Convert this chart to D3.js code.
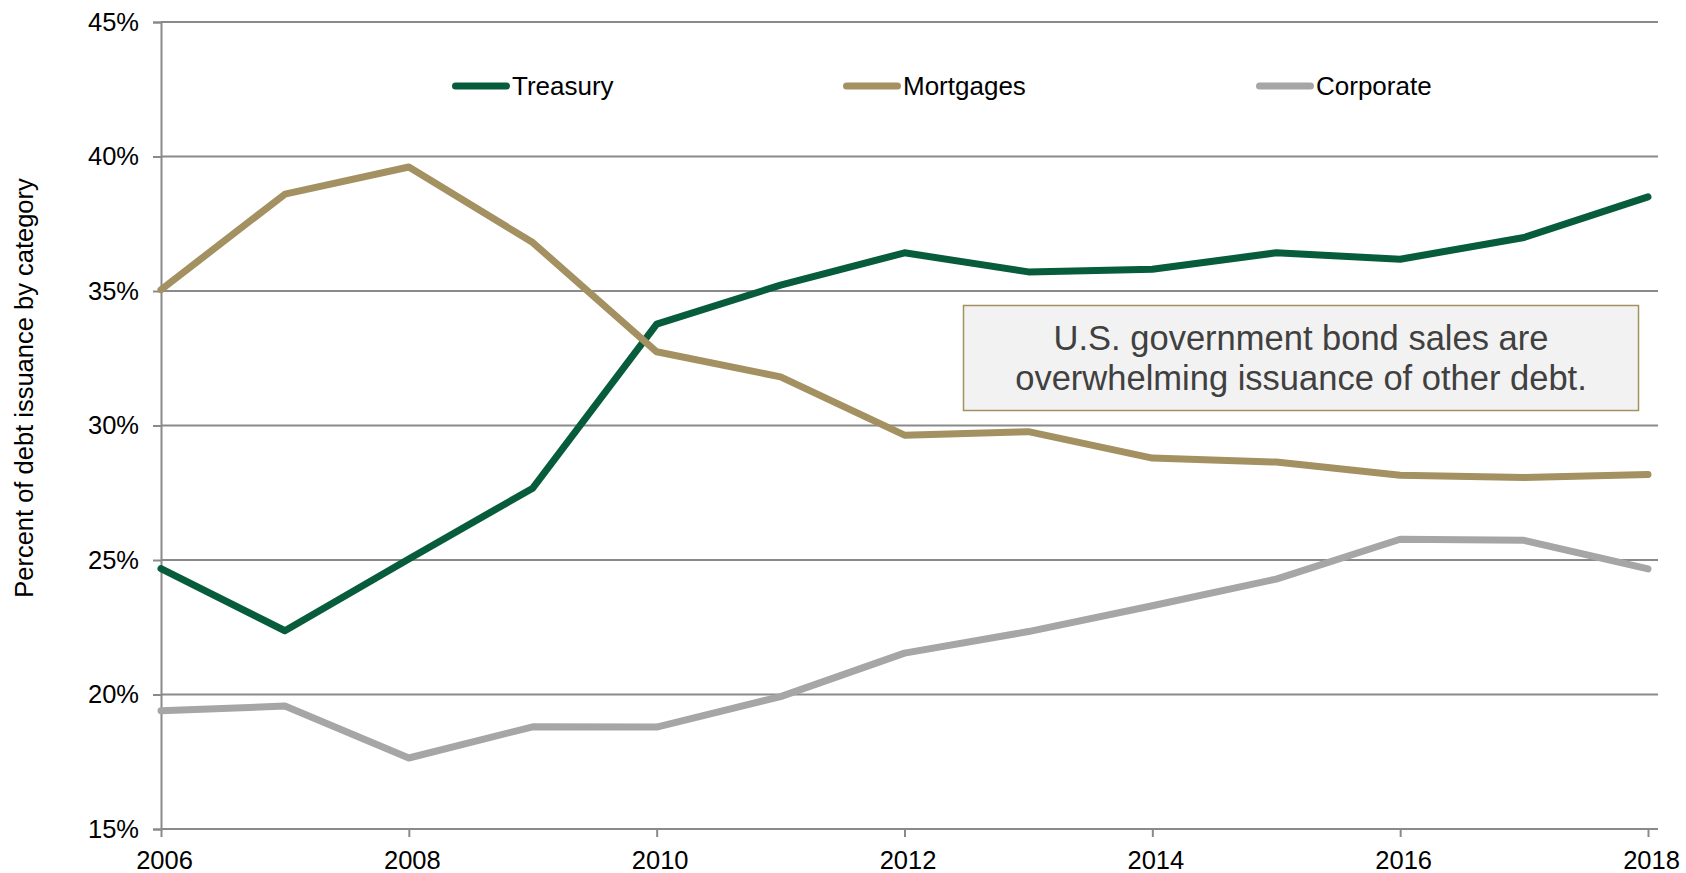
<!DOCTYPE html>
<html>
<head>
<meta charset="utf-8">
<script src="https://cdn.jsdelivr.net/npm/d3@7"></script>
<style>
  html, body { margin: 0; padding: 0; background: #fff; }
  svg { display: block; font-family: "Liberation Sans", Arial, sans-serif; }
</style>
</head>
<body>
<svg id="chart" width="1686" height="873"></svg>
<script>
// Share of total debt issuance by category, 2006-2018 (percent)
const years = [2006, 2007, 2008, 2009, 2010, 2011, 2012, 2013, 2014, 2015, 2016, 2017, 2018];
const treasury  = [24.68, 22.37, 25.04, 27.67, 33.77, 35.22, 36.42, 35.71, 35.81, 36.42, 36.18, 36.99, 38.50];
const mortgages = [35.05, 38.60, 39.61, 36.80, 32.74, 31.81, 29.64, 29.77, 28.79, 28.64, 28.15, 28.07, 28.18];
const corporate = [19.40, 19.57, 17.64, 18.80, 18.79, 19.92, 21.54, 22.34, 23.30, 24.29, 25.77, 25.73, 24.67];

const seriesNames = ["Treasury", "Mortgages", "Corporate"];
const seriesValues = [treasury, mortgages, corporate];
const seriesColors = ["#075c3c", "#a39161", "#a6a6a6"];

const yTicks = [15, 20, 25, 30, 35, 40, 45];
const xTicks = [2006, 2008, 2010, 2012, 2014, 2016, 2018];

const axisLabel = "Percent of debt issuance by category";
const noteLines = ["U.S. government bond sales are", "overwhelming issuance of other debt."];

const svg = d3.select("#chart");

const x = d3.scaleLinear().domain([2006, 2018]).range([161, 1648]);
const y = d3.scaleLinear().domain([15, 45]).range([829, 22]);
const plotRight = 1658;
const gridColor = "#8a8a8a";

// horizontal gridlines
svg.append("g")
  .selectAll("line")
  .data(yTicks.filter(d => d !== 15))
  .join("line")
  .attr("x1", x(2006)).attr("x2", plotRight)
  .attr("y1", d => y(d)).attr("y2", d => y(d))
  .attr("stroke", gridColor).attr("stroke-width", 2);

// y axis
const yAxis = svg.append("g")
  .attr("transform", `translate(${x(2006)},0)`)
  .call(d3.axisLeft(y).tickValues(yTicks).tickSize(8).tickPadding(14).tickFormat(d => d + "%"));
yAxis.select(".domain").attr("stroke", gridColor).attr("stroke-width", 2);
yAxis.selectAll(".tick line").attr("stroke", gridColor).attr("stroke-width", 2);
yAxis.selectAll(".tick text")
  .attr("fill", "#000").attr("font-size", 25.5)
  .attr("font-family", "Liberation Sans, Arial, sans-serif");

// x axis
const xAxis = svg.append("g")
  .attr("transform", `translate(0,${y(15)})`)
  .call(d3.axisBottom(x).tickValues(xTicks).tickSize(8).tickPadding(14).tickFormat(d3.format("d")));
xAxis.select(".domain").attr("d", `M${x(2006)},0H${plotRight}`)
  .attr("stroke", gridColor).attr("stroke-width", 2);
xAxis.selectAll(".tick line").attr("stroke", gridColor).attr("stroke-width", 2);
xAxis.selectAll(".tick text")
  .attr("fill", "#000").attr("font-size", 25.5)
  .attr("dx", 3)
  .attr("font-family", "Liberation Sans, Arial, sans-serif");

// y axis title
svg.append("text")
  .attr("transform", "translate(33,388) rotate(-90)")
  .attr("text-anchor", "middle")
  .attr("font-size", 25.5)
  .attr("fill", "#000")
  .text(axisLabel);

// series lines
const line = d3.line()
  .x((d, i) => x(years[i]))
  .y(d => y(d));

svg.append("g")
  .selectAll("path")
  .data(seriesValues)
  .join("path")
  .attr("d", d => line(d))
  .attr("fill", "none")
  .attr("stroke", (d, i) => seriesColors[i])
  .attr("stroke-width", 7)
  .attr("stroke-linejoin", "round")
  .attr("stroke-linecap", "round");

// legend
const legendX = [452, 843, 1256];
const legendY = 86;
const legend = svg.append("g")
  .selectAll("g")
  .data(seriesNames)
  .join("g")
  .attr("transform", (d, i) => `translate(${legendX[i]},${legendY})`);
legend.append("line")
  .attr("x1", 3.5).attr("x2", 54.5)
  .attr("stroke", (d, i) => seriesColors[i])
  .attr("stroke-width", 7)
  .attr("stroke-linecap", "round");
legend.append("text")
  .attr("x", 60)
  .attr("dy", "0.35em")
  .attr("font-size", 26)
  .attr("fill", "#000")
  .text(d => d);

// annotation box
const note = svg.append("g");
note.append("rect")
  .attr("x", 963.5).attr("y", 305.5)
  .attr("width", 675).attr("height", 105)
  .attr("fill", "#f2f2f2")
  .attr("stroke", "#a39161").attr("stroke-width", 1.5);
note.selectAll("text")
  .data(noteLines)
  .join("text")
  .attr("x", 1301)
  .attr("y", (d, i) => 350 + i * 40)
  .attr("text-anchor", "middle")
  .attr("font-size", 34.5)
  .attr("fill", "#404040")
  .text(d => d);
</script>
</body>
</html>
